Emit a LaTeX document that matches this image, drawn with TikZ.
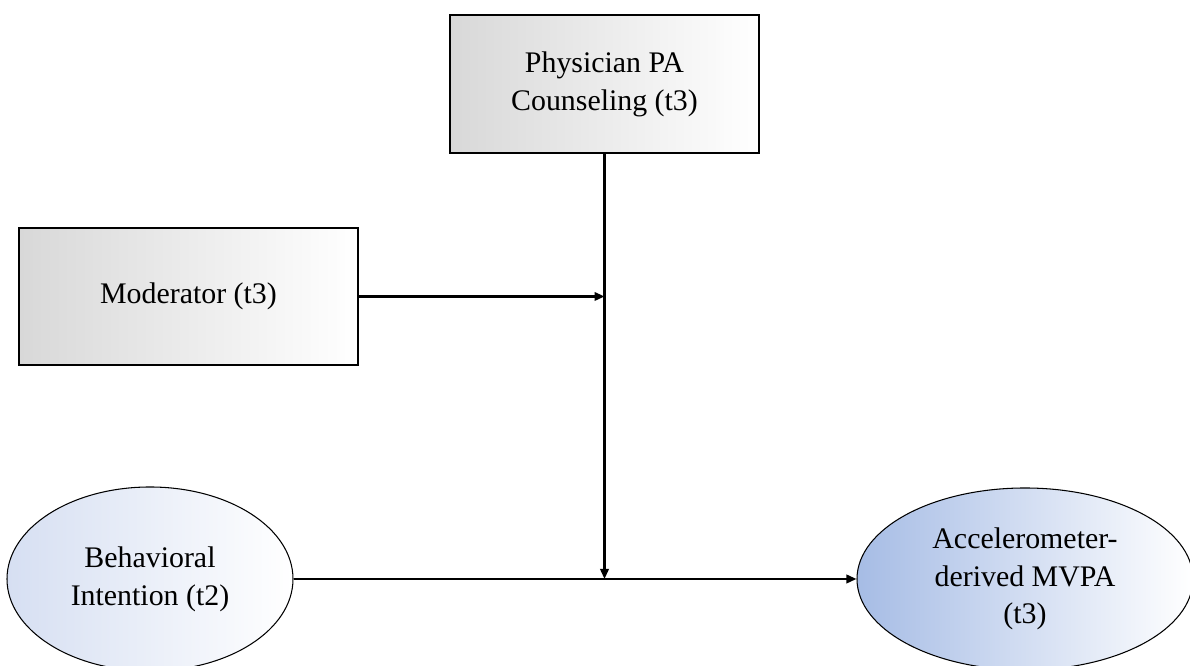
\documentclass[tikz,border=0pt]{standalone}
\usepackage{fontspec}
\setmainfont{Liberation Serif}
\usetikzlibrary{shapes.geometric,arrows.meta}
\definecolor{boxgray}{RGB}{216,216,216}
\definecolor{paleblue}{RGB}{214,223,242}
\definecolor{midblue}{RGB}{166,188,229}
\begin{document}
\begin{tikzpicture}[
    every node/.style={font=\fontsize{17}{21.5}\selectfont, align=center},
    greybox/.style={draw, line width=0.9pt, left color=boxgray, right color=white},
    latent/.style={ellipse, draw, line width=0.6pt, inner sep=0pt},
    path/.style={line width=1.2pt, -{Triangle[length=0.2cm,width=0.17cm]}}
]
    \useasboundingbox (0,0) rectangle (23.8,13.32);
    \clip (0,0) rectangle (23.8,13.32);

    % Moderator and predictor boxes
    \node[greybox, minimum width=6.18cm, minimum height=2.76cm] (counsel) at (12.09,11.64)
        {Physician PA\\Counseling (t3)};
    \node[greybox, minimum width=6.78cm, minimum height=2.74cm] (moder) at (3.77,7.39)
        {Moderator (t3)};

    % Intention and outcome
    \node[latent, left color=paleblue, right color=white,
        minimum width=5.72cm, minimum height=3.68cm] (intent) at (3.00,1.74)
        {Behavioral\\Intention (t2)};
    \node[latent, left color=midblue, right color=white,
        minimum width=6.72cm, minimum height=3.64cm] (mvpa) at (20.5,1.74)
        {Accelerometer-\\derived MVPA\\(t3)};

    % Paths
    \coordinate (join) at (counsel.south |- intent.east);
    \draw[path] (intent.east) -- (mvpa.west);
    \draw[path] (counsel.south) -- (join);
    \draw[path] (moder.east) -- (moder.east -| counsel.south);
\end{tikzpicture}
\end{document}
